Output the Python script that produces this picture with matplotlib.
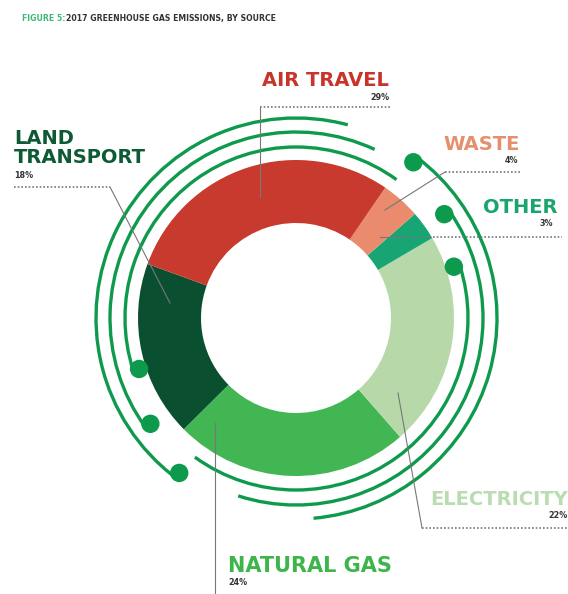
import numpy as np
import matplotlib.pyplot as plt
from matplotlib.patches import Arc, Circle

# data (pie order: counterclockwise from the land/air-travel boundary)
sources = ['LAND\nTRANSPORT', 'NATURAL GAS', 'ELECTRICITY', 'OTHER', 'WASTE', 'AIR TRAVEL']
shares = [18, 24, 22, 3, 4, 29]
colors = ['#0b4f31', '#41b653', '#b7d9aa', '#17a673', '#e98b6c', '#c83a2e']
label_colors = ['#0d5a35', '#3db54a', '#b9dcb1', '#1aa56f', '#e58f6e', '#c9342a']
pct_labels = [f'{v}%' for v in shares]

W, H = 568, 594
def Y(y):
    return H - y

fig = plt.figure(figsize=(W / 100, H / 100), dpi=100)
ax = fig.add_axes([0, 0, 1, 1])

cx, cy = 296, Y(318)
ax.pie(shares, colors=colors, startangle=160, counterclock=True, radius=158,
       center=(cx, cy), wedgeprops=dict(width=63, edgecolor='none'))

# decorative circuit arcs (radius, theta1, theta2)
arc_col = '#0e9a4c'
arcs = [(171, 54, 198), (186, 65, 216), (200, 75, 233),
        (172, 234, 378), (187, 252, 395), (201, 275, 413)]
for r, t1, t2 in arcs:
    ax.add_patch(Arc((cx, cy), 2 * r, 2 * r, theta1=t1, theta2=t2,
                     color=arc_col, lw=2.4))
    t = np.radians(t2)
    ax.add_patch(Circle((cx + (r - 6) * np.cos(t), cy + (r - 6) * np.sin(t)), 8.5,
                        color=arc_col, zorder=3))

# leader lines
lc = '#777777'
def leader(pts, dotted):
    xs = [p[0] for p in pts]
    ys = [Y(p[1]) for p in pts]
    ax.plot(xs, ys, color=lc, lw=0.8)
    (x1, y1), (x2, y2) = dotted
    ax.plot([x1, x2], [Y(y1), Y(y2)], color=lc, lw=1.2, ls=(0, (1, 1.2)))

leader([(260, 107), (260, 197)], ((260, 107), (392, 107)))
leader([(110, 187), (170, 303)], ((14, 187), (110, 187)))
leader([(445, 172), (385, 210)], ((445, 172), (522, 172)))
leader([(400, 237), (380, 237)], ((400, 237), (562, 237)))
leader([(422, 528), (398, 393)], ((422, 528), (568, 528)))
ax.plot([215, 215], [Y(423), Y(594)], color=lc, lw=0.8)

# labels
def label(x, y, text, col, pct, px, py, fs=14):
    ax.text(x, Y(y), text, color=col, fontsize=fs, fontweight='heavy',
            ha='left', va='baseline', linespacing=1.0)
    ax.text(px, Y(py), pct, color='#333333', fontsize=5.8, fontweight='bold',
            ha='left', va='baseline')

label(262, 86, sources[5], label_colors[5], pct_labels[5], 370, 100)
label(14, 163, sources[0], label_colors[0], pct_labels[0], 14, 178)
label(443, 150, sources[4], label_colors[4], pct_labels[4], 505, 163)
label(483, 213, sources[3], label_colors[3], pct_labels[3], 540, 226)
label(430, 505, sources[2], label_colors[2], pct_labels[2], 548, 518)
label(228, 572, sources[1], label_colors[1], pct_labels[1], 228, 585, fs=15)

ax.text(22, Y(21), 'FIGURE 5:', color='#3cb878', fontsize=5.6, fontweight='bold',
        va='baseline')
ax.text(66, Y(21), '2017 GREENHOUSE GAS EMISSIONS, BY SOURCE', color='#333333',
        fontsize=5.6, fontweight='bold', va='baseline')

ax.set_xlim(0, W)
ax.set_ylim(0, H)
ax.set_aspect('equal')
ax.axis('off')
fig.savefig('out.png', dpi=100)
